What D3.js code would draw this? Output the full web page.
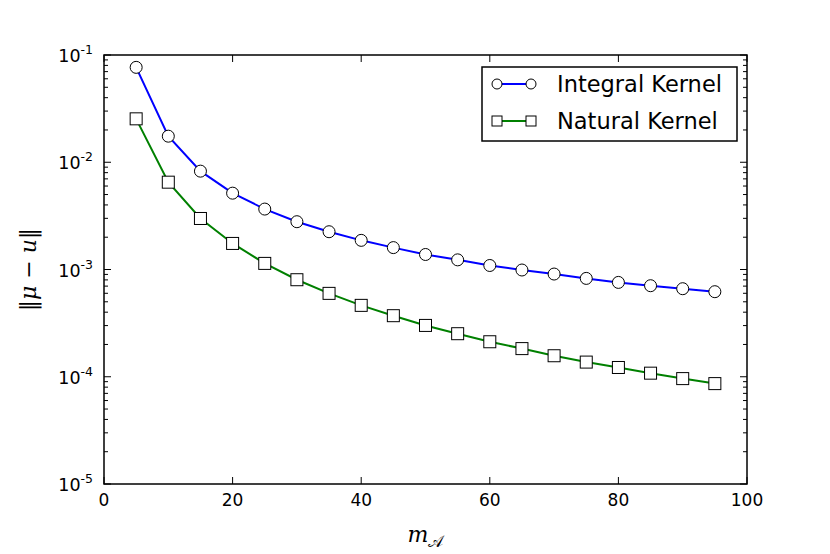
<!DOCTYPE html>
<html>
<head>
<meta charset="utf-8">
<script src="https://cdn.jsdelivr.net/npm/d3@7"></script>
<style>
  body { margin: 0; background: #fff; }
  text { font-family: "DejaVu Sans", sans-serif; fill: #000; }
</style>
</head>
<body>
<div id="vis"></div>
<script>
// data
var mValues = [5, 10, 15, 20, 25, 30, 35, 40, 45, 50, 55, 60, 65, 70, 75, 80, 85, 90, 95];
var integralErr = [0.0767, 0.0175, 0.00826, 0.00515, 0.00366, 0.00279, 0.00225, 0.00187, 0.00160, 0.00138,
                   0.00123, 0.00109, 0.000989, 0.000907, 0.000826, 0.000758, 0.000706, 0.000662, 0.000621];
var naturalErr = [0.0254, 0.00652, 0.00299, 0.00175, 0.00114, 0.000803, 0.000599, 0.000463, 0.000371, 0.000301,
                  0.000252, 0.000212, 0.000183, 0.000157, 0.000137, 0.000122, 0.000108, 0.0000961, 0.0000863];
var seriesNames = ["Integral Kernel", "Natural Kernel"];
var xTicks = [0, 20, 40, 60, 80, 100];
var yExponents = [-1, -2, -3, -4, -5];

var outer_width = 830;
var outer_height = 554;
var margin = {top: 55, right: 83, bottom: 70, left: 104};
var w = outer_width - margin.left - margin.right;
var h = outer_height - margin.top - margin.bottom;

var svg = d3.select("#vis")
  .append("svg")
  .attr("width", outer_width)
  .attr("height", outer_height);

var g = svg.append("g")
  .attr("transform", "translate(" + margin.left + "," + margin.top + ")");

var xScale = d3.scaleLinear().domain([0, 100]).range([0, w]);
var yScale = d3.scaleLog().domain([1e-5, 1e-1]).range([h, 0]);

// minor ticks for the log axis
var minorTicks = [];
yExponents.forEach(function(e){
  if (e == -1) return;
  for (var k = 2; k <= 9; k++) minorTicks.push(k * Math.pow(10, e));
});
var majorTicks = yExponents.map(function(e){ return Math.pow(10, e); });

// ticks pointing inward on all four sides
function tickLines(cls, vals, horiz, len, atOther) {
  g.selectAll("." + cls).data(vals).enter().append("line")
    .attr("class", cls)
    .attr("x1", function(d){ return horiz ? (atOther ? w : 0) : xScale(d); })
    .attr("x2", function(d){ return horiz ? (atOther ? w - len : len) : xScale(d); })
    .attr("y1", function(d){ return horiz ? yScale(d) : (atOther ? 0 : h); })
    .attr("y2", function(d){ return horiz ? yScale(d) : (atOther ? len : h - len); })
    .style("stroke", "#000")
    .style("stroke-width", 1);
}
tickLines("xt-b", xTicks, false, 7, false);
tickLines("xt-t", xTicks, false, 7, true);
tickLines("yt-l", majorTicks, true, 7, false);
tickLines("yt-r", majorTicks, true, 7, true);
tickLines("ym-l", minorTicks, true, 4, false);
tickLines("ym-r", minorTicks, true, 4, true);

// x tick labels
g.selectAll(".xlab").data(xTicks).enter().append("text")
  .attr("class", "xlab")
  .attr("x", function(d){ return xScale(d); })
  .attr("y", h + 22)
  .style("text-anchor", "middle")
  .style("font-size", "17px")
  .text(function(d){ return d; });

// y tick labels 10^k
var ylab = g.selectAll(".ylab").data(yExponents).enter().append("text")
  .attr("class", "ylab")
  .attr("x", -11)
  .attr("y", function(d){ return yScale(Math.pow(10, d)) + 7; })
  .style("text-anchor", "end")
  .style("font-size", "17.5px");
ylab.append("tspan").text("10");
ylab.append("tspan")
  .attr("dy", -8)
  .style("font-size", "12.5px")
  .text(function(d){ return d; });

// lines
var line = d3.line()
  .x(function(d){ return xScale(d[0]); })
  .y(function(d){ return yScale(d[1]); });

var intData = mValues.map(function(m, i){ return [m, integralErr[i]]; });
var natData = mValues.map(function(m, i){ return [m, naturalErr[i]]; });

g.append("path").datum(intData)
  .attr("d", line)
  .style("fill", "none").style("stroke", "#0000ff").style("stroke-width", 2);
g.append("path").datum(natData)
  .attr("d", line)
  .style("fill", "none").style("stroke", "#008000").style("stroke-width", 2);

g.selectAll(".sq").data(natData).enter().append("rect")
  .attr("class", "sq")
  .attr("x", function(d){ return xScale(d[0]) - 6; })
  .attr("y", function(d){ return yScale(d[1]) - 6; })
  .attr("width", 12).attr("height", 12)
  .style("fill", "#fff").style("stroke", "#000").style("stroke-width", 1);

g.selectAll(".circ").data(intData).enter().append("circle")
  .attr("class", "circ")
  .attr("cx", function(d){ return xScale(d[0]); })
  .attr("cy", function(d){ return yScale(d[1]); })
  .attr("r", 6)
  .style("fill", "#fff").style("stroke", "#000").style("stroke-width", 1);

// frame
g.append("rect")
  .attr("width", w).attr("height", h)
  .style("fill", "none").style("stroke", "#000").style("stroke-width", 1.5);

// legend
var legend = svg.append("g").attr("transform", "translate(482,67)");
legend.append("rect")
  .attr("width", 255).attr("height", 74)
  .style("fill", "#fff").style("stroke", "#000").style("stroke-width", 1.5);

var legColors = ["#0000ff", "#008000"];
seriesNames.forEach(function(name, i){
  var yy = 17 + i * 37;
  legend.append("line")
    .attr("x1", 15).attr("x2", 49).attr("y1", yy).attr("y2", yy)
    .style("stroke", legColors[i]).style("stroke-width", 2);
  [15, 49].forEach(function(xx){
    if (i == 0) {
      legend.append("circle").attr("cx", xx).attr("cy", yy).attr("r", 5)
        .style("fill", "#fff").style("stroke", "#000").style("stroke-width", 1);
    } else {
      legend.append("rect").attr("x", xx - 5).attr("y", yy - 5).attr("width", 10).attr("height", 10)
        .style("fill", "#fff").style("stroke", "#000").style("stroke-width", 1);
    }
  });
  legend.append("text")
    .attr("x", 75).attr("y", yy + 8)
    .style("font-size", "22.5px")
    .text(name);
});

// axis labels
svg.append("text")
  .attr("transform", "translate(36," + (margin.top + h / 2) + ") rotate(-90)")
  .style("text-anchor", "middle")
  .style("font-family", "'DejaVu Serif', serif")
  .style("font-size", "22px")
  .html("‖<tspan font-style='italic'>μ</tspan> − <tspan font-style='italic'>u</tspan>‖");

var xl = svg.append("text")
  .attr("x", margin.left + w / 2)
  .attr("y", 542)
  .style("text-anchor", "middle")
  .style("font-family", "'DejaVu Serif', serif")
  .style("font-size", "22px");
xl.append("tspan").style("font-style", "italic").text("m");
xl.append("tspan").attr("dy", 5).style("font-size", "16px").text("𝒜");
</script>
</body>
</html>
